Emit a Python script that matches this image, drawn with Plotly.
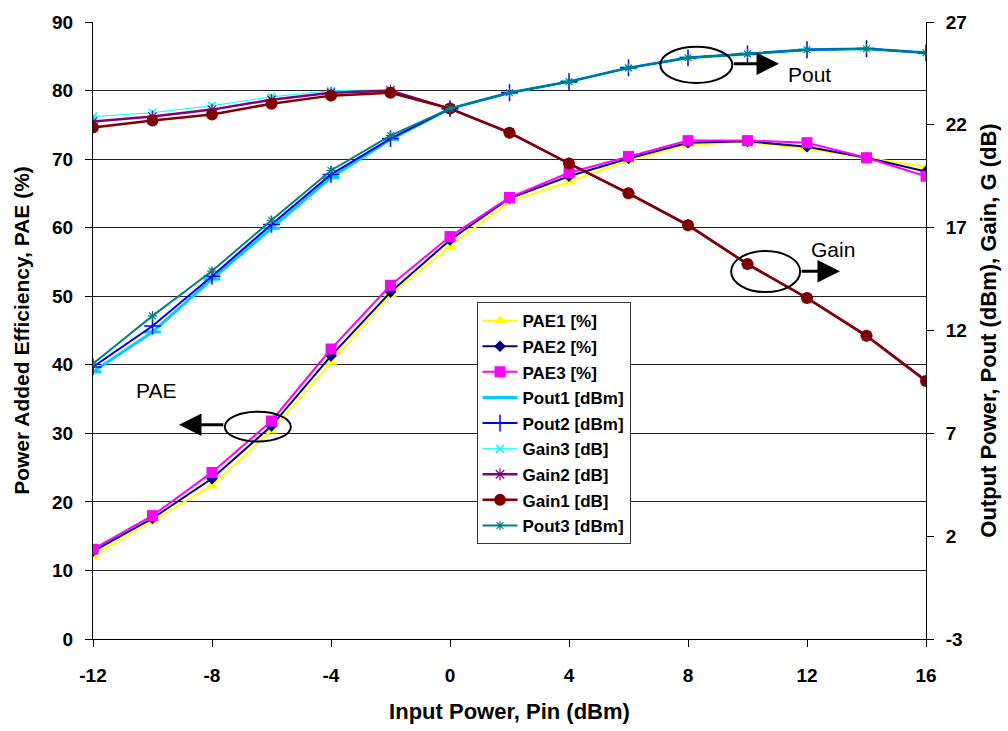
import plotly.graph_objects as go

pin = [-12, -10, -8, -6, -4, -2, 0, 2, 4, 6, 8, 10, 12, 14, 16]

pae1 = [12.1, 17.2, 22.4, 30.4, 40.4, 50.3, 57.3, 63.8, 66.7, 69.8, 72.1, 72.5, 71.5, 70.2, 68.9]
pae2 = [12.8, 17.6, 23.4, 31.1, 41.3, 50.6, 58.2, 64.3, 67.5, 70.1, 72.4, 72.6, 71.8, 70.2, 68.2]
pae3 = [13.1, 18.0, 24.3, 31.8, 42.3, 51.6, 58.7, 64.4, 68.0, 70.4, 72.7, 72.7, 72.4, 70.2, 67.5]

pout1 = [9.99, 11.93, 14.50, 16.97, 19.44, 21.29, 22.79, 23.56, 24.10, 24.77, 25.26, 25.45, 25.65, 25.70, 25.50]
pout2 = [10.23, 12.22, 14.64, 17.16, 19.59, 21.33, 22.79, 23.56, 24.10, 24.77, 25.26, 25.45, 25.65, 25.70, 25.50]
pout3 = [10.38, 12.71, 14.89, 17.36, 19.78, 21.48, 22.79, 23.56, 24.10, 24.77, 25.26, 25.45, 25.65, 25.70, 25.50]

gain1 = [21.87, 22.21, 22.50, 23.03, 23.42, 23.56, 22.79, 21.62, 20.12, 18.67, 17.12, 15.23, 13.58, 11.74, 9.55]
gain2 = [22.16, 22.40, 22.74, 23.22, 23.56, 23.66, 22.79, 21.62, 20.12, 18.67, 17.12, 15.23, 13.58, 11.74, 9.55]
gain3 = [22.40, 22.59, 22.93, 23.36, 23.66, 23.71, 22.79, 21.62, 20.12, 18.67, 17.12, 15.23, 13.58, 11.74, 9.55]

x_ticks = [-12, -8, -4, 0, 4, 8, 12, 16]
left_ticks = [0, 10, 20, 30, 40, 50, 60, 70, 80, 90]
right_ticks = [-3, 2, 7, 12, 17, 22, 27]

FONT = "Arial, Liberation Sans, sans-serif"

fig = go.Figure()

def add(name, y, color, width, symbol, msize, axis, mline=None):
    marker = dict(symbol=symbol, size=msize, color=color)
    if mline is not None:
        marker["line"] = dict(color=color, width=mline)
    fig.add_trace(go.Scatter(
        x=pin, y=y, name=name, mode="lines+markers",
        line=dict(color=color, width=width), marker=marker,
        yaxis=axis, legendgroup=name))

add("PAE1 [%]", pae1, "#FFFF00", 2, "triangle-up", 11, "y")
add("PAE2 [%]", pae2, "#000080", 2, "diamond", 9, "y")
add("PAE3 [%]", pae3, "#FF00FF", 2, "square", 11, "y")
add("Pout1 [dBm]", pout1, "#00CCFF", 3, "line-ew", 12, "y2", mline=3)
add("Pout2 [dBm]", pout2, "#0000FF", 2, "cross-thin", 12, "y2", mline=1.5)
add("Gain3 [dB]", gain3, "#00FFFF", 1, "x-thin", 8, "y2", mline=1.5)
add("Gain2 [dB]", gain2, "#800080", 2.5, "asterisk", 10, "y2", mline=1.2)
add("Gain1 [dB]", gain1, "#800000", 2.5, "circle", 12, "y2")
add("Pout3 [dBm]", pout3, "#008080", 2, "asterisk", 8, "y2", mline=1.2)

shapes = [
    dict(type="circle", xref="x", yref="y", x0=7.07, x1=9.49, y0=81.1, y1=86.4,
         line=dict(color="black", width=2)),
    dict(type="circle", xref="x", yref="y", x0=9.45, x1=11.77, y0=50.6, y1=56.6,
         line=dict(color="black", width=2)),
    dict(type="circle", xref="x", yref="y", x0=-7.57, x1=-5.35, y0=28.8, y1=33.15,
         line=dict(color="black", width=2)),
]

annotations = [
    dict(x=11.06, y=83.9, ax=9.49, ay=83.9, xref="x", yref="y", axref="x", ayref="y",
         showarrow=True, arrowhead=2, arrowsize=1.5, arrowwidth=3, arrowcolor="black", text=""),
    dict(x=13.11, y=53.65, ax=11.77, ay=53.65, xref="x", yref="y", axref="x", ayref="y",
         showarrow=True, arrowhead=2, arrowsize=1.5, arrowwidth=3, arrowcolor="black", text=""),
    dict(x=-9.11, y=31.26, ax=-7.57, ay=31.26, xref="x", yref="y", axref="x", ayref="y",
         showarrow=True, arrowhead=2, arrowsize=1.5, arrowwidth=3, arrowcolor="black", text=""),
    dict(x=12.1, y=82.4, xref="x", yref="y", text="Pout", showarrow=False,
         font=dict(family=FONT, size=21, color="black")),
    dict(x=12.88, y=56.85, xref="x", yref="y", text="Gain", showarrow=False,
         font=dict(family=FONT, size=21, color="black")),
    dict(x=-9.88, y=36.2, xref="x", yref="y", text="PAE", showarrow=False,
         font=dict(family=FONT, size=21, color="black")),
]

fig.update_layout(
    width=1008, height=731,
    margin=dict(l=93, r=81, t=22, b=90),
    paper_bgcolor="white", plot_bgcolor="white",
    font=dict(family=FONT, color="black"),
    shapes=shapes, annotations=annotations,
    showlegend=True,
    legend=dict(x=0.4604, y=0.546, xanchor="left", yanchor="top",
                bgcolor="white", bordercolor="#333333", borderwidth=1,
                font=dict(family=FONT, size=17, color="black", weight="bold"),
                tracegroupgap=0.5, itemwidth=35),
    xaxis=dict(range=[-12, 16], tickvals=x_ticks, ticktext=[str(v) for v in x_ticks],
               ticks="outside", ticklen=7, ticklabelstandoff=12,
               tickcolor="black", showgrid=False, zeroline=False,
               showline=True, linecolor="black", linewidth=1,
               tickfont=dict(family=FONT, size=19, weight="bold"),
               title=dict(text="Input Power, Pin (dBm)", standoff=18,
                          font=dict(family=FONT, size=22, weight="bold"))),
    yaxis=dict(range=[0, 90], tickvals=left_ticks, ticks="outside", ticklen=7,
               ticklabelstandoff=8,
               tickcolor="black", showgrid=True, gridcolor="#222222", gridwidth=1,
               zeroline=False, showline=True, linecolor="black", linewidth=1,
               tickfont=dict(family=FONT, size=19, weight="bold"),
               title=dict(text="Power Added Efficiency, PAE (%)", standoff=16,
                          font=dict(family=FONT, size=21, weight="bold"))),
    yaxis2=dict(range=[-3, 27], tickvals=right_ticks,
                ticktext=[str(v) for v in right_ticks], overlaying="y", side="right",
                ticks="outside", ticklen=7, ticklabelstandoff=8,
                tickcolor="black", showgrid=False,
                zeroline=False, showline=True, linecolor="black", linewidth=1,
                tickfont=dict(family=FONT, size=19, weight="bold"),
                title=dict(text="Output Power, Pout (dBm), Gain, G (dB)", standoff=14,
                           font=dict(family=FONT, size=22, weight="bold"))),
)

fig.write_html("out.html")
